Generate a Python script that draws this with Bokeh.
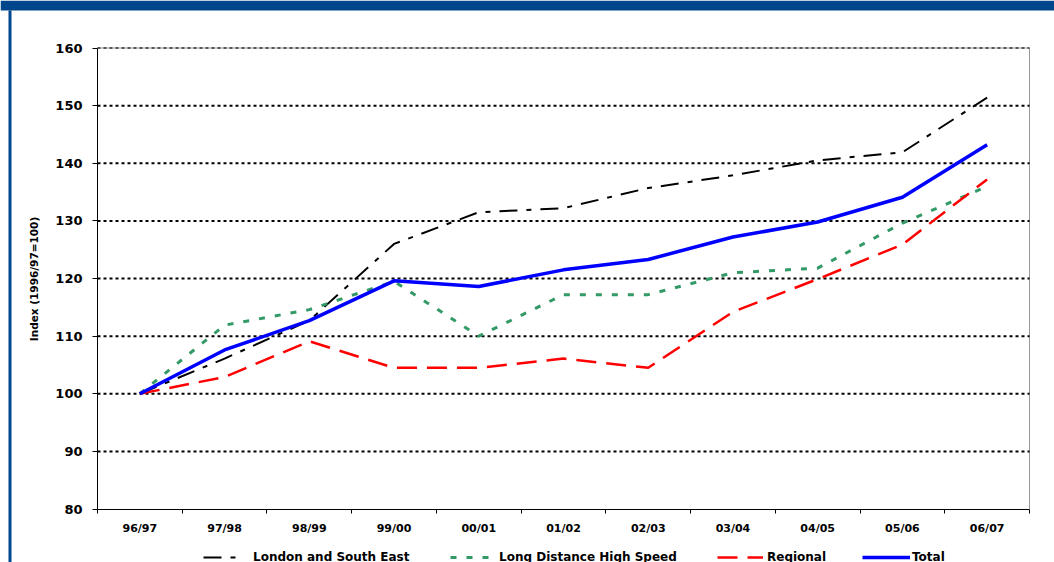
from bokeh.plotting import figure
from bokeh.models import FixedTicker, Legend, LegendItem, BoxAnnotation
from bokeh.embed import file_html
from bokeh.resources import INLINE

# Rail passenger index by sector, 1996/97 = 100
years = ["96/97", "97/98", "98/99", "99/00", "00/01", "01/02",
         "02/03", "03/04", "04/05", "05/06", "06/07"]
london_se = [100, 106.1, 112.7, 126.0, 131.5, 132.2, 135.7, 137.9, 140.5, 141.9, 151.4]
long_distance = [100, 111.9, 114.6, 119.5, 110.0, 117.2, 117.2, 121.0, 121.8, 129.6, 136.0]
regional = [100, 102.9, 109.1, 104.5, 104.5, 106.1, 104.5, 114.2, 119.9, 125.9, 137.2]
total = [100, 107.6, 112.7, 119.6, 118.6, 121.5, 123.3, 127.2, 129.8, 134.1, 143.2]
y_ticks = [80, 90, 100, 110, 120, 130, 140, 150, 160]

series_names = ["London and South East", "Long Distance High Speed", "Regional", "Total"]

FONT = "DejaVu Sans"
HEADER_BLUE = "#00468c"
W, H = 1054, 562

# plot box inside the page, in pixels
BOX_L, BOX_R, BOX_T, BOX_B = 97, 1029, 47.5, 508.5

n = len(years)
y_lo, y_hi = y_ticks[0], y_ticks[-1]
px_x = (BOX_R - BOX_L) / n
px_y = (BOX_B - BOX_T) / (y_hi - y_lo)

# each year sits in the middle of its slot; slot edges carry the tick marks
xs = [i + 0.5 for i in range(n)]
edges = list(range(n + 1))

# the frame covers the whole page so the header, rule and key can be drawn on it
p = figure(width=W, height=H,
           x_range=(-BOX_L / px_x, n + (W - BOX_R) / px_x),
           y_range=(y_lo - (H - BOX_B) / px_y, y_hi + BOX_T / px_y),
           output_backend="svg", toolbar_location=None,
           min_border=0, min_border_left=0, min_border_right=0,
           min_border_top=0, min_border_bottom=0,
           background_fill_color="white", border_fill_color="white")
p.outline_line_color = None
p.xgrid.grid_line_color = None
p.ygrid.grid_line_color = None

# plot box border (grey) and dotted value gridlines
p.segment(x0=[0, n], y0=[y_hi, y_lo], x1=[n, n], y1=[y_hi, y_hi],
          line_color="#999999", line_width=1)
p.segment(x0=0, x1=n, y0=y_ticks[1:-1], y1=y_ticks[1:-1],
          line_color="black", line_width=2, line_dash="3 3")
p.segment(x0=0, x1=n, y0=y_ticks[-1:], y1=y_ticks[-1:],
          line_color="#555555", line_width=2, line_dash="3 3")

r_lse = p.line(xs, london_se, line_color="black", line_width=2, line_dash="18 9 5 9")
r_ldhs = p.line(xs, long_distance, line_color="#339966", line_width=3, line_dash="6 10")
r_reg = p.line(xs, regional, line_color="#ff0000", line_width=2.5, line_dash="20 10")
r_tot = p.line(xs, total, line_color="#0000ff", line_width=3.5)

# x axis: labels at slot centres, short ticks at slot edges
xa = p.xaxis[0]
xa.fixed_location = y_lo
xa.bounds = (0, n)
xa.ticker = FixedTicker(ticks=xs, minor_ticks=edges)
xa.major_label_overrides = {x: y for x, y in zip(xs, years)}
xa.major_tick_out = 0
xa.major_tick_in = 0
xa.minor_tick_out = 4
xa.minor_tick_in = 0
xa.minor_tick_line_color = "black"
xa.axis_line_color = "black"
xa.major_label_standoff = 9
xa.major_label_text_font = FONT
xa.major_label_text_font_style = "bold"
xa.major_label_text_font_size = "11px"
xa.major_label_text_color = "black"

ya = p.yaxis[0]
ya.fixed_location = 0
ya.bounds = (y_lo, y_hi)
ya.ticker = FixedTicker(ticks=y_ticks, minor_ticks=[])
ya.major_tick_out = 5
ya.major_tick_in = 0
ya.major_tick_line_color = "black"
ya.axis_line_color = "black"
ya.major_label_standoff = 10
ya.major_label_text_font = FONT
ya.major_label_text_font_style = "bold"
ya.major_label_text_font_size = "13px"
ya.major_label_text_color = "black"
ya.axis_label = "Index (1996/97=100)"
ya.axis_label_text_font = FONT
ya.axis_label_text_font_style = "bold"
ya.axis_label_text_font_size = "10.5px"
ya.axis_label_text_color = "black"
ya.axis_label_standoff = 12

# key: one entry per series, set out in a row under the axis
legend_specs = [
    (series_names[0], r_lse, 203, 36, 14),
    (series_names[1], r_ldhs, 450, 39, 10),
    (series_names[2], r_reg, 717, 46, 4),
    (series_names[3], r_tot, 862, 48, 2),
]
for name, rend, x0, gw, gap in legend_specs:
    lg = Legend(items=[LegendItem(label=name, renderers=[rend])],
                location=(x0, -2), orientation="horizontal",
                padding=0, margin=0, spacing=0,
                glyph_width=gw, glyph_height=14, label_standoff=gap,
                label_text_font=FONT, label_text_font_style="bold",
                label_text_font_size="12px", label_text_color="black",
                border_line_alpha=0, background_fill_alpha=0)
    p.add_layout(lg, "center")

# page frame: header band and left rule
p.add_layout(BoxAnnotation(left=0, right=W, top=0, bottom=10,
                           left_units="canvas", right_units="canvas",
                           top_units="canvas", bottom_units="canvas",
                           fill_color=HEADER_BLUE, fill_alpha=1, line_alpha=0))
p.add_layout(BoxAnnotation(left=8, right=11, top=10, bottom=H,
                           left_units="canvas", right_units="canvas",
                           top_units="canvas", bottom_units="canvas",
                           fill_color=HEADER_BLUE, fill_alpha=1, line_alpha=0))

open("out.html", "w").write(file_html(p, INLINE))
